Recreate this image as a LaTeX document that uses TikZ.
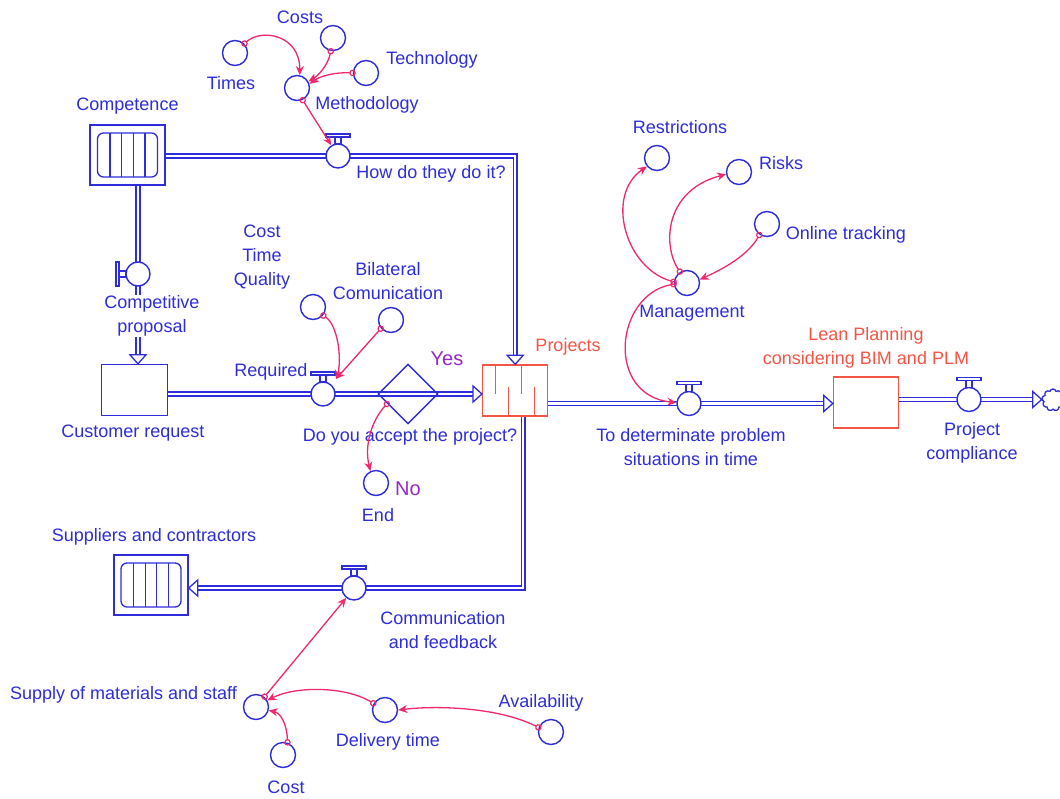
\documentclass[tikz,border=0pt]{standalone}
\usepackage{fontspec}
\setmainfont{Liberation Sans}
\usetikzlibrary{arrows.meta,shapes.geometric,shapes.symbols}
\definecolor{vblue}{RGB}{45,45,220}
\definecolor{lpink}{RGB}{240,40,110}
\definecolor{sred}{RGB}{245,85,70}
\definecolor{vpurple}{RGB}{150,40,200}
\pgfdeclarelayer{back}\pgfdeclarelayer{bg}
\pgfsetlayers{back,bg,main}
\tikzset{
  lbl/.style={text=vblue, font=\fontsize{18}{24}\selectfont, align=center, inner sep=0pt},
  rlbl/.style={lbl, text=sred},
  plbl/.style={lbl, text=vpurple, font=\fontsize{20}{24}\selectfont},
  aux/.style={circle, draw=vblue, line width=1.4pt, minimum size=25pt, inner sep=0pt, fill=white},
  valve/.style={circle, draw=vblue, line width=1.4pt, minimum size=24pt, inner sep=0pt, fill=white},
  stock/.style={rectangle, draw=vblue, line width=1.4pt, fill=white, minimum width=75pt, minimum height=60pt, inner sep=0pt},
  level/.style={rectangle, draw=vblue, line width=1.4pt, fill=white, minimum width=66pt, minimum height=51pt, inner sep=0pt},
  pipe/.style={draw=vblue, double=white, double distance=2.2pt, line width=1.5pt},
  tipstyle/.style={draw=vblue, fill=white, line width=1.3pt, line join=miter},
  vpart/.style={draw=vblue, fill=white, line width=1.2pt},
  link/.style={lpink, line width=1.3pt, shorten <=-3pt,
    {Circle[open,length=6.5pt,width=6.5pt,line width=1.2pt]}-{Stealth[length=9pt,width=8pt]}},
  rtip/.pic={\draw[tipstyle] (0,0) -- (-9,-8) -- (-9,8) -- cycle;},
  dtip/.pic={\draw[tipstyle] (0,0) -- (-8,-9) -- (8,-9) -- cycle;},
  ltip/.pic={\draw[tipstyle] (0,0) -- (9,-8) -- (9,8) -- cycle;},
}
\newcommand{\valvetop}[1]{%
  \draw[vpart] ([shift={(-3,-12)}]#1.center) rectangle ([shift={(3,-19)}]#1.center);
  \draw[vpart] ([shift={(-12,-19)}]#1.center) rectangle ([shift={(12,-22)}]#1.center);}
\newcommand{\valveleft}[1]{%
  \draw[vpart] ([shift={(-12,-3)}]#1.center) rectangle ([shift={(-19,3)}]#1.center);
  \draw[vpart] ([shift={(-19,-12)}]#1.center) rectangle ([shift={(-22,12)}]#1.center);}
\newcommand{\stockinner}[1]{%
  \draw[vblue, line width=1.3pt, rounded corners=6pt] ([shift={(-30,-22)}]#1.center) rectangle ([shift={(30,22)}]#1.center);
  \foreach \xx in {-17.5,-5.8,5.8,17.5}{\draw[vblue, line width=1.2pt] ([shift={(\xx,-22)}]#1.center) -- ([shift={(\xx,22)}]#1.center);}}
\begin{document}
\begin{tikzpicture}[x=1pt,y=-1pt]
\begin{pgfonlayer}{back}
\fill[white] (0,0) rectangle (1060,798);
\end{pgfonlayer}
\useasboundingbox (0,0) rectangle (1060,798);

% ---- nodes ----
\node[aux] (times) at (235,53) {};
\node[aux] (costs) at (333,38) {};
\node[aux] (tech) at (366,73) {};
\node[aux] (meth) at (297,88) {};
\node[valve] (howv) at (338,156) {};
\node[stock] (comp) at (127.5,155) {};
\node[valve] (compv) at (138,274) {};
\node[level] (cust) at (134.5,390) {};
\node[valve] (reqv) at (323,394) {};
\node[aux] (ctq) at (313,307) {};
\node[aux] (bilat) at (391,320) {};
\node[diamond, draw=vblue, line width=1.4pt, minimum width=60pt, minimum height=60pt, inner sep=0pt] (dec) at (408,394) {};
\node[aux] (endc) at (376,483) {};
\node[level, draw=sred, minimum width=65pt] (proj) at (515.2,390.5) {};
\node[aux] (restr) at (657,158) {};
\node[aux] (risks) at (739,172) {};
\node[aux] (online) at (767,224) {};
\node[aux] (mgmt) at (687,283) {};
\node[valve] (detv) at (689,403.5) {};
\node[level, draw=sred, minimum width=65pt] (lean) at (866,402.5) {};
\node[valve] (pcv) at (969,399.5) {};
\node[cloud, cloud puffs=9, aspect=1, draw=vblue, line width=1.3pt, minimum width=22pt, minimum height=22pt, inner sep=0pt] (sink) at (1053,400) {};
\node[stock, minimum width=74pt] (sup) at (151,585) {};
\node[valve] (commv) at (354,588) {};
\node[aux] (supply) at (256,707) {};
\node[aux] (delivery) at (385,710) {};
\node[aux] (avail) at (551,732) {};
\node[aux] (cost2) at (283,755) {};

% ---- pipes ----
\begin{pgfonlayer}{bg}
\draw[pipe, shorten >=9pt] (comp.east |- howv) -| (proj.north);
\draw[pipe, shorten >=9pt] (compv |- comp.south) -- (compv |- cust.north);
\draw[pipe, shorten >=9pt] (cust.east |- reqv) -- (proj.west |- reqv);
\draw[pipe, shorten >=9pt] (proj.east |- detv) -- (lean.west |- detv);
\draw[pipe, shorten >=9pt] (lean.east |- pcv) -- (sink.west |- pcv);
\draw[pipe, shorten >=9pt] ([xshift=8pt]proj.south) |- (sup.east |- commv);
\end{pgfonlayer}
\pic at (proj.north) {dtip};
\pic at (compv |- cust.north) {dtip};
\pic at (proj.west |- reqv) {rtip};
\pic at (lean.west |- detv) {rtip};
\pic at (sink.west |- pcv) {rtip};
\pic at (sup.east |- commv) {ltip};

% valves
\valvetop{howv}
\valvetop{reqv}
\valvetop{detv}
\valvetop{pcv}
\valvetop{commv}
\valveleft{compv}

% stock internals
\stockinner{comp}
\stockinner{sup}
\foreach \xx in {-19.5,6.5}{\draw[sred, line width=1.2pt] ([xshift=\xx pt]proj.north) -- ++(0,30);}
\foreach \xx in {-6.5,19.5}{\draw[sred, line width=1.2pt] ([xshift=\xx pt]proj.south) -- ++(0,-30);}

% ---- labels ----
\node[lbl] (lcosts) at (300,17) {Costs};
\node[lbl] (ltech) at (432,60) {Technology};
\node[lbl] (ltimes) at (231,83) {Times};
\node[lbl] (lmeth) at (367,105) {Methodology};
\node[lbl] (lhow) at (431,174) {How do they do it?};
\node[lbl] (lcomp) at (127.5,106) {Competence};
\node[lbl, fill=white, inner sep=1pt] (lcompv) at (152,316) {Competitive\\proposal};
\node[lbl] (lcust) at (133,433) {Customer request};
\node[lbl] (lctq) at (262,257) {Cost\\Time\\Quality};
\node[lbl] (lbilat) at (388,281) {Bilateral\\Comunication};
\node[lbl] (lreq) at (271,372) {Required};
\node[plbl] (lyes) at (447,359) {Yes};
\node[lbl] (ldec) at (410,437) {Do you accept the project?};
\node[lbl] (lend) at (378,515) {End};
\node[plbl] (lno) at (408,489) {No};
\node[rlbl] (lproj) at (568,347) {Projects};
\node[lbl] (lrestr) at (680,127) {Restrictions};
\node[lbl] (lrisks) at (781,163) {Risks};
\node[lbl] (lonline) at (846,235) {Online tracking};
\node[lbl] (lmgmt) at (692,313) {Management};
\node[lbl] (ldet) at (691,447) {To determinate problem\\situations in time};
\node[rlbl] (llean) at (866,348) {Lean Planning\\considering BIM and PLM};
\node[lbl] (lpc) at (972,443) {Project\\compliance};
\node[lbl] (lsup) at (154,537) {Suppliers and contractors};
\node[lbl] (lcomm) at (443,630) {Communication\\and feedback};
\node[lbl] (lsupply) at (123.5,695) {Supply of materials and staff};
\node[lbl] (ldel) at (388,742) {Delivery time};
\node[lbl] (lavail) at (541,703) {Availability};
\node[lbl] (lcost2) at (286,787) {Cost};

% ---- links ----
\draw[link] (times.45) .. controls (262,28) and (300,35) .. (meth.78);
\draw[link] (costs.-100) .. controls (328,65) and (318,76) .. (meth.30);
\draw[link] (tech.180) .. controls (336,72) and (320,76) .. (meth.18);
\draw[link] (meth.-65) -- (howv.122);
\draw[link] (ctq.-40) .. controls (338,325) and (342,360) .. ([shift={(13,-15)}]reqv.center);
\draw[link] (bilat.-140) -- ([shift={(13,-15)}]reqv.center);
\draw[link] (dec.-155) .. controls (372,420) and (364,445) .. (endc.115);
\draw[link] (mgmt.175) .. controls (625,268) and (605,195) .. (restr.-140);
\draw[link] (mgmt.122) .. controls (662,245) and (665,190) .. (risks.190);
\draw[link] (online.-125) .. controls (748,255) and (725,268) .. (mgmt.15);
\draw[link] (mgmt.185) .. controls (615,295) and (605,395) .. (detv.176);
\draw[link] (supply.50) -- (commv.-128);
\draw[link] (delivery.150) .. controls (345,686) and (295,686) .. (supply.30);
\draw[link] (avail.160) .. controls (500,708) and (440,705) .. (delivery.0);
\draw[link] (cost2.70) .. controls (287,725) and (281,713) .. (supply.-15);
\end{tikzpicture}
\end{document}
